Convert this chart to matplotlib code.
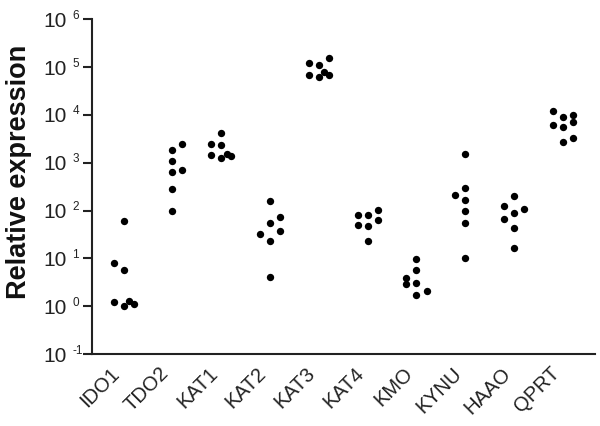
import matplotlib
matplotlib.use("Agg")
import matplotlib.pyplot as plt
import numpy as np

plt.rcParams['font.family'] = ['Liberation Sans', 'DejaVu Sans']

genes = ["IDO1", "TDO2", "KAT1", "KAT2", "KAT3", "KAT4", "KMO", "KYNU", "HAAO", "QPRT"]

# values per gene (relative expression) and horizontal jitter offsets (category units)
IDO1 = [7.9, 1.2, 60, 5.8, 1.0, 1.3, 1.1]
IDO1_off = [-1, -1, 0, 0, 0, 0.55, 1]
TDO2 = [1820, 1090, 630, 283, 98, 2460, 697]
TDO2_off = [0, 0, 0, 0, 0, 1, 1]
KAT1 = [2500, 1480, 4200, 2350, 1240, 1500, 1360]
KAT1_off = [-1, -1, 0, 0, 0, 0.55, 1]
KAT2 = [32, 156, 55, 23, 4.0, 73, 37]
KAT2_off = [-1, 0, 0, 0, 0, 1, 1]
KAT3 = [123000, 69600, 112000, 62000, 79000, 157000, 67000]
KAT3_off = [-1, -1, 0, 0, 0.5, 1, 1]
KAT4 = [80, 49, 80, 47.6, 23, 103, 63]
KAT4_off = [-1, -1, 0, 0, 0, 1, 1]
KMO = [3.8, 2.9, 9.7, 5.65, 3.0, 1.75, 2.06]
KMO_off = [-1, -1, 0, 0, 0, 0, 1]
KYNU = [208, 1500, 298, 164, 100, 56, 10.2]
KYNU_off = [-1, 0, 0, 0, 0, 0, 0]
HAAO = [125, 65, 202, 89, 44, 16.5, 105]
HAAO_off = [-1, -1, 0, 0, 0, 0, 1]
QPRT = [11900, 6150, 9000, 5500, 2680, 10100, 7250, 3350]
QPRT_off = [-1, -1, 0, 0, 0, 1, 1, 1]

exponents = [-1, 0, 1, 2, 3, 4, 5, 6]

values = [IDO1, TDO2, KAT1, KAT2, KAT3, KAT4, KMO, KYNU, HAAO, QPRT]
offsets = [IDO1_off, TDO2_off, KAT1_off, KAT2_off, KAT3_off, KAT4_off, KMO_off, KYNU_off, HAAO_off, QPRT_off]

fig = plt.figure(figsize=(6.0, 4.26), dpi=100)
ax = fig.add_axes([0.153, 0.169, 0.839, 0.786])

step = 0.205
for i, (v, o) in enumerate(zip(values, offsets)):
    x = i + np.array(o) * step
    ax.scatter(x, v, s=28, color='black', zorder=3, linewidths=0)

ax.set_yscale('log')
ax.set_ylim(1e-1, 1e6)
ax.set_xlim(-0.65, 9.66)
ax.set_yticks([10.0**k for k in exponents])
ax.set_yticklabels(['10' for k in exponents])
ax.yaxis.set_minor_locator(matplotlib.ticker.NullLocator())
for k in exponents:
    ax.annotate('-1' if k < 0 else str(k), xy=(0, 10.0**k),
                xycoords=('axes fraction', 'data'),
                xytext=(-14.0, 2.5), textcoords='offset points',
                ha='left', va='center', fontsize=8.5, color='#222222',
                annotation_clip=False)

ax.set_xticks(range(len(genes)))
ax.set_xticklabels(genes, rotation=45, ha='right', va='top')

for s in ['top', 'right']:
    ax.spines[s].set_visible(False)
for s in ['left', 'bottom']:
    ax.spines[s].set_linewidth(1.5)
    ax.spines[s].set_color('#222222')

ax.tick_params(axis='y', direction='out', length=6.5, width=1.5, labelsize=15,
               pad=11.5, colors='#222222', labelcolor='#222222')
ax.tick_params(axis='x', length=0, labelsize=14.5, pad=7, labelcolor='#222222')

fig.text(0.031, 0.597, 'Relative expression', rotation=90, ha='center', va='center',
         fontsize=19.5, fontweight='bold', color='#111111')

fig.savefig('out.png', dpi=100)
